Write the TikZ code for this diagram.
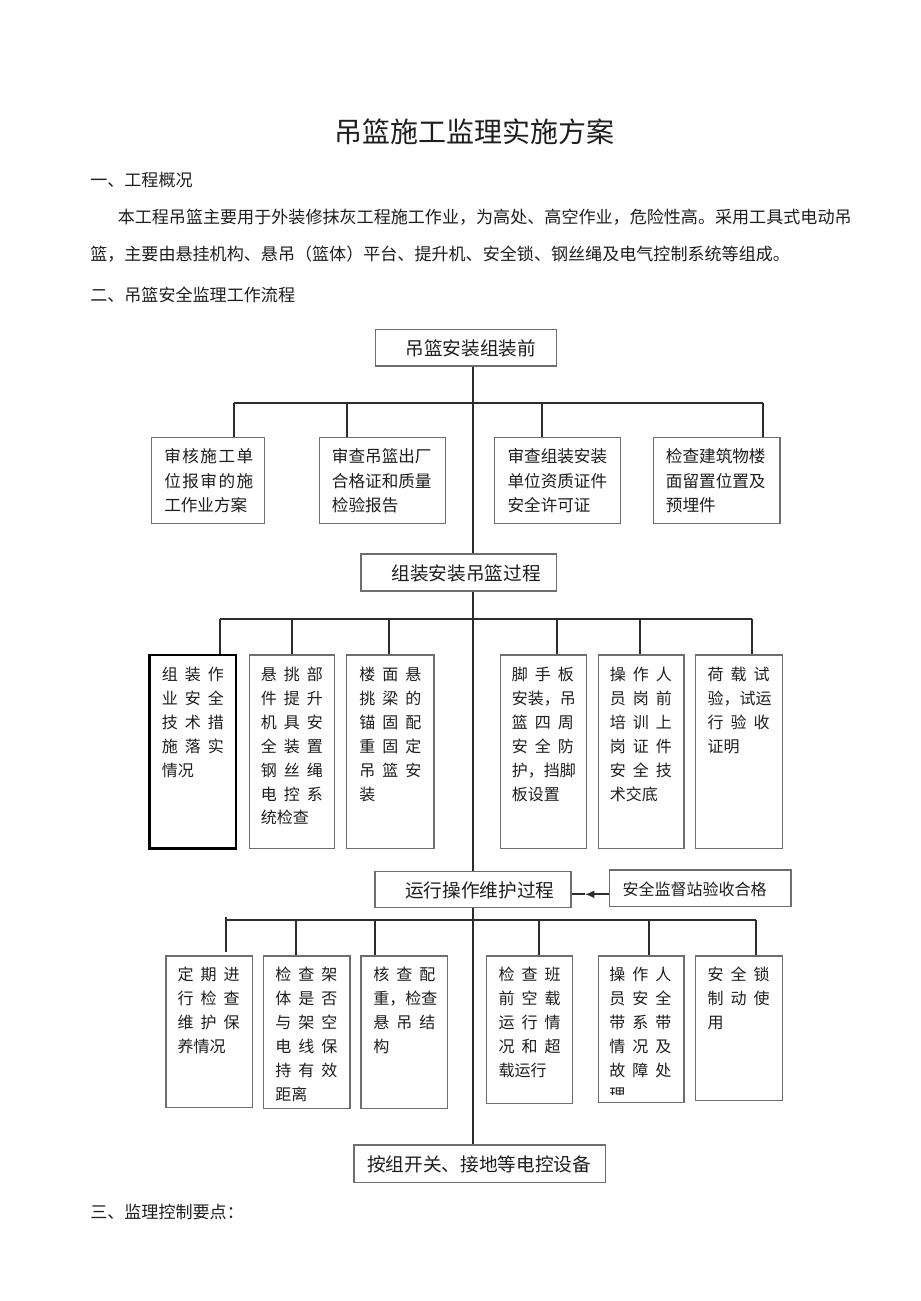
\documentclass[tikz,border=0pt]{standalone}
\usepackage{fontspec}
\setmainfont{Noto Sans CJK SC}
\usetikzlibrary{fit,arrows.meta}
\definecolor{boxgray}{HTML}{6E6E6E}
\definecolor{ink}{HTML}{1E1E1E}
\definecolor{wire}{HTML}{2C2C2C}
\newcommand\tri[3]{\makebox[46.5pt][l]{#1\hfill{}#2\hfill{}#3}}
\newcommand\fiv[5]{\makebox[66.75pt][l]{#1\hfill{}#2\hfill{}#3\hfill{}#4\hfill{}#5}}
\begin{document}
\begin{tikzpicture}[x=0.75pt,y=-0.75pt,
  bx/.style={draw=boxgray,line width=0.9pt,inner sep=0pt},
  bxthick/.style={draw=black,line width=1.8pt,inner sep=0pt},
  conn/.style={draw=wire,line width=1.3pt},
  titletxt/.style={font=\fontsize{21}{25}\selectfont,inner sep=0pt,text=ink},
  bodytxt/.style={font=\fontsize{12.8}{16}\selectfont,inner sep=0pt,anchor=west,text=ink},
  flowtxt/.style={font=\fontsize{14}{17}\selectfont,inner sep=0pt,text=ink},
  sidetxt/.style={font=\fontsize{12}{15}\selectfont,inner sep=0pt,text=ink},
  rowone/.style={font=\fontsize{12.45}{18.15}\selectfont,align=left,anchor=north west,inner sep=0pt,text=ink},
  rowtxt/.style={font=\fontsize{12}{17.9}\selectfont,align=left,anchor=north west,inner sep=0pt,text=ink}]
\fill[white] (0,0) rectangle (920,1301);
\useasboundingbox (0,0) rectangle (920,1301);

% ---- headings and paragraph ----
\node[titletxt] (title) at (474.1,131.7) {吊篮施工监理实施方案};
\node[bodytxt] (h1) at (90,180) {一、工程概况};
\node[bodytxt] (p1) at (117.5,216.7) {本工程吊篮主要用于外装修抹灰工程施工作业，为高处、高空作业，危险性高。采用工具式电动吊};
\node[bodytxt] (p2) at (90,254) {篮，主要由悬挂机构、悬吊（篮体）平台、提升机、安全锁、钢丝绳及电气控制系统等组成。};
\node[bodytxt] (h2) at (90,295) {二、吊篮安全监理工作流程};
\node[bodytxt] (h3) at (90,1211.7) {三、监理控制要点：};

% ---- main flow boxes ----
\node[bx,fit={(375.3,329.3) (556.7,366)}] (m1) {};
\node[flowtxt] (tm1) at (470.8,348.7) {吊篮安装组装前};
\node[bx,fit={(361,554) (556.7,591)}] (m2) {};
\node[flowtxt] (tm2) at (466.2,573) {组装安装吊篮过程};
\node[bx,fit={(375,871.7) (571,907.7)}] (m3) {};
\node[flowtxt] (tm3) at (479.7,890) {运行操作维护过程};
\node[bx,fit={(354,1145) (605.7,1182.3)}] (m4) {};
\node[flowtxt] (tm4) at (479.2,1164) {按组开关、接地等电控设备};
\node[bx,fit={(609.3,870) (791,906.7)}] (side) {};
\node[sidetxt] (tside) at (694.7,889.3) {安全监督站验收合格};

% ---- row 1 boxes ----
\node[bx,fit={(151.7,437.3) (264.3,523.3)}] (b11) {};
\node[bx,fit={(319.3,437.3) (445.7,523.3)}] (b12) {};
\node[bx,fit={(494.3,437.3) (620.3,523.3)}] (b13) {};
\node[bx,fit={(653.7,437.3) (780,523.3)}] (b14) {};
\node[rowone] (t11) at (164,448.6) {\fiv{审}{核}{施}{工}{单}\\\fiv{位}{报}{审}{的}{施}\\工作业方案};
\node[rowone] (t12) at (331.7,448.6) {审查吊篮出厂\\合格证和质量\\检验报告};
\node[rowone] (t13) at (507.3,448.6) {审查组装安装\\单位资质证件\\安全许可证};
\node[rowone] (t14) at (665.7,448.6) {检查建筑物楼\\面留置位置及\\预埋件};

% ---- row 2 boxes ----
\node[bxthick,fit={(149.3,655) (236,848.3)}] (b21) {};
\node[bx,fit={(249.3,655) (334.3,848.3)}] (b22) {};
\node[bx,fit={(346.7,655) (434,848.3)}] (b23) {};
\node[bx,fit={(500.7,655) (586.7,848.3)}] (b24) {};
\node[bx,fit={(598.3,655) (684,848.3)}] (b25) {};
\node[bx,fit={(695.7,655) (782.3,848.3)}] (b26) {};
\node[rowtxt] (t21) at (161.7,667) {\tri{组}{装}{作}\\\tri{业}{安}{全}\\\tri{技}{术}{措}\\\tri{施}{落}{实}\\情况};
\node[rowtxt] (t22) at (260.7,667) {\tri{悬}{挑}{部}\\\tri{件}{提}{升}\\\tri{机}{具}{安}\\\tri{全}{装}{置}\\\tri{钢}{丝}{绳}\\\tri{电}{控}{系}\\统检查};
\node[rowtxt] (t23) at (359,667) {\tri{楼}{面}{悬}\\\tri{挑}{梁}{的}\\\tri{锚}{固}{配}\\\tri{重}{固}{定}\\\tri{吊}{篮}{安}\\装};
\node[rowtxt] (t24) at (511.7,667) {\tri{脚}{手}{板}\\安装，吊\\\tri{篮}{四}{周}\\\tri{安}{全}{防}\\护，挡脚\\板设置};
\node[rowtxt] (t25) at (609.7,667) {\tri{操}{作}{人}\\\tri{员}{岗}{前}\\\tri{培}{训}{上}\\\tri{岗}{证}{件}\\\tri{安}{全}{技}\\术交底};
\node[rowtxt] (t26) at (707.3,667) {\tri{荷}{载}{试}\\验，试运\\\tri{行}{验}{收}\\证明};

% ---- row 3 boxes ----
\node[bx,fit={(166,956) (252.3,1107.3)}] (b31) {};
\node[bx,fit={(263.3,956) (350,1108.3)}] (b32) {};
\node[bx,fit={(361,956) (447.7,1108.3)}] (b33) {};
\node[bx,fit={(486.7,956) (572.7,1103.3)}] (b34) {};
\node[bx,fit={(598.3,956) (684,1102.7)}] (b35) {};
\node[bx,fit={(695.7,956) (782.3,1100.7)}] (b36) {};
\node[rowtxt] (t31) at (177.3,967) {\tri{定}{期}{进}\\\tri{行}{检}{查}\\\tri{维}{护}{保}\\养情况};
\node[rowtxt] (t32) at (275,967) {\tri{检}{查}{架}\\\tri{体}{是}{否}\\\tri{与}{架}{空}\\\tri{电}{线}{保}\\\tri{持}{有}{效}\\距离};
\node[rowtxt] (t33) at (373,967) {\tri{核}{查}{配}\\重，检查\\\tri{悬}{吊}{结}\\构};
\node[rowtxt] (t34) at (498.3,967) {\tri{检}{查}{班}\\\tri{前}{空}{载}\\\tri{运}{行}{情}\\\tri{况}{和}{超}\\载运行};
\begin{scope}
\clip (599,957) rectangle (683,1094.5);
\node[rowtxt] (t35) at (609,967) {\tri{操}{作}{人}\\\tri{员}{安}{全}\\\tri{带}{系}{带}\\\tri{情}{况}{及}\\\tri{故}{障}{处}\\理};
\end{scope}
\node[rowtxt] (t36) at (707.3,967) {\tri{安}{全}{锁}\\\tri{制}{动}{使}\\用};

% ---- spine ----
\coordinate (cx) at (472.7,0);
\draw[conn] (m1.south -| cx) -- (m2.north -| cx);
\draw[conn] (m2.south -| cx) -- (m3.north -| cx);
\draw[conn] (m3.south -| cx) -- (m4.north -| cx);

% ---- row 1 bar and drops ----
\coordinate (d11) at (234.3,403.3);
\coordinate (d12) at (347.3,403.3);
\coordinate (d13) at (542,403.3);
\coordinate (d14) at (763.3,403.3);
\draw[conn] (d11) -- (d14);
\draw[conn] (d11) -- (b11.north -| d11);
\draw[conn] (d12) -- (b12.north -| d12);
\draw[conn] (d13) -- (b13.north -| d13);
\draw[conn] (d14) -- (b14.north -| d14);

% ---- row 2 bar and drops ----
\coordinate (d21) at (220,619.3);
\coordinate (d22) at (291.7,619.3);
\coordinate (d23) at (389,619.3);
\coordinate (d24) at (556.7,619.3);
\coordinate (d25) at (640,619.3);
\coordinate (d26) at (751.7,619.3);
\draw[conn] (d21) -- (d26);
\draw[conn] (d21) -- (b21.north -| d21);
\draw[conn] (d22) -- (b22.north -| d22);
\draw[conn] (d23) -- (b23.north -| d23);
\draw[conn] (d24) -- (b24.north -| d24);
\draw[conn] (d25) -- (b25.north -| d25);
\draw[conn] (d26) -- (b26.north -| d26);

% ---- row 3 bar and drops ----
\coordinate (d31) at (226,920);
\coordinate (d31a) at (226,916.7);
\coordinate (d31b) at (226,951.7);
\coordinate (d32) at (296,920);
\coordinate (d33) at (375,920);
\coordinate (d34) at (539,920);
\coordinate (d35) at (649.3,920);
\coordinate (d36) at (756,920);
\draw[conn] (d31) -- (d36);
\draw[conn] (d31a) -- (d31b);
\draw[conn] (d32) -- (b32.north -| d32);
\draw[conn] (d33) -- (b33.north -| d33);
\draw[conn] (d34) -- (b34.north -| d34);
\draw[conn] (d35) -- (b35.north -| d35);
\draw[conn] (d36) -- (b36.north -| d36);

% ---- arrow from side box ----
\coordinate (atip) at (585,894.3);
\draw[conn,-{Latex[length=7pt,width=6pt]}] (side.west |- atip) -- (atip);
\draw[conn] (atip) -- (m3.east |- atip);
\end{tikzpicture}
\end{document}
